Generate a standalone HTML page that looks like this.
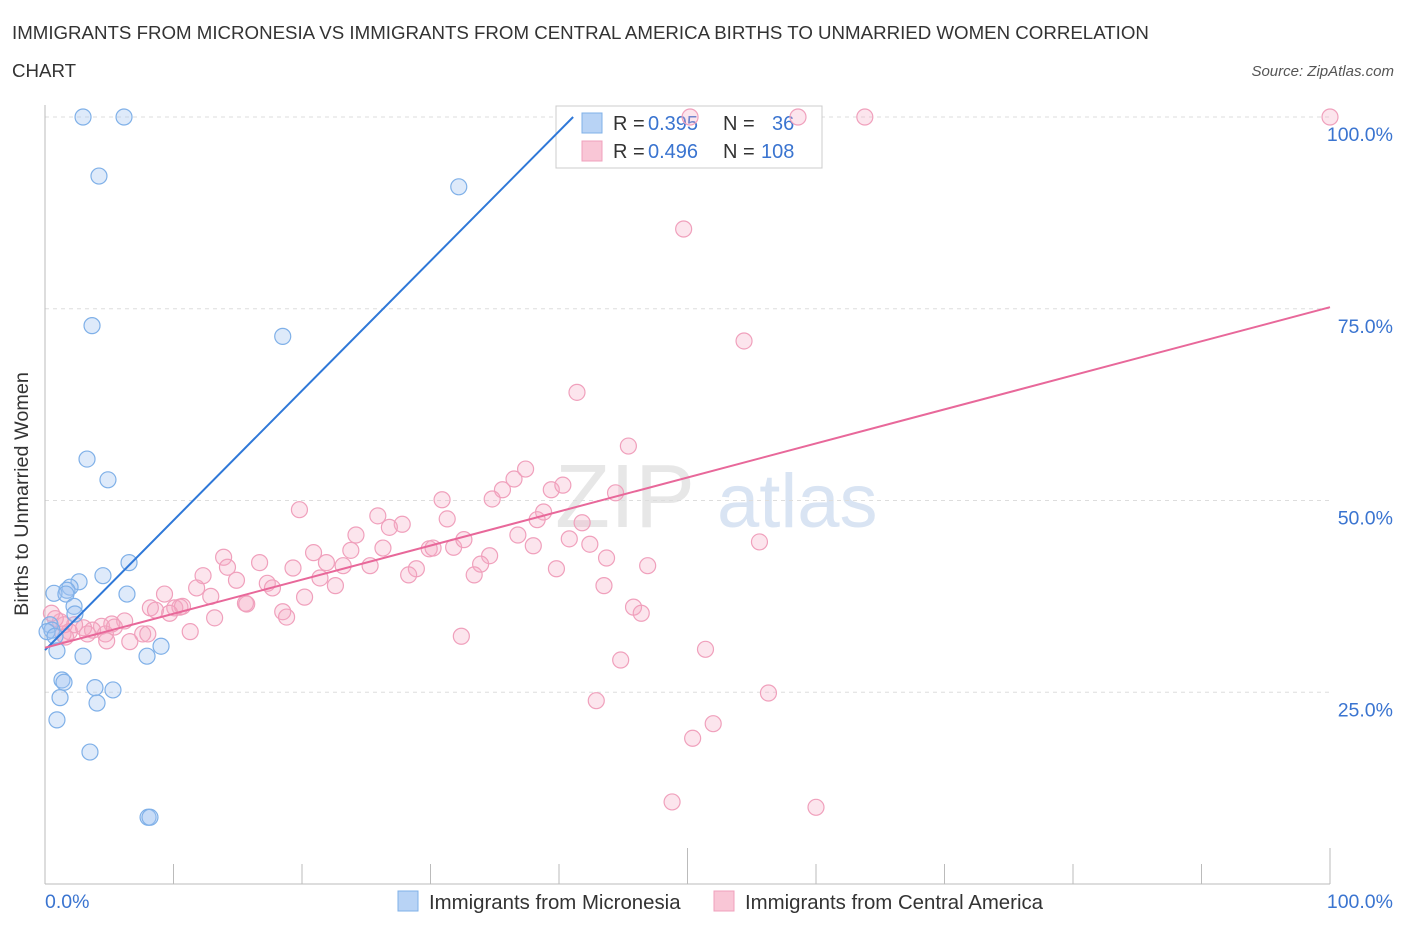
<!DOCTYPE html>
<html><head><meta charset="utf-8"><style>
body{margin:0;background:#fff;font-family:"Liberation Sans",sans-serif;}
svg text{font-family:"Liberation Sans",sans-serif;}
</style></head><body>
<svg id="c" width="1406" height="930" xmlns="http://www.w3.org/2000/svg">
<text x="12" y="39" font-size="18.7" fill="#333">IMMIGRANTS FROM MICRONESIA VS IMMIGRANTS FROM CENTRAL AMERICA BIRTHS TO UNMARRIED WOMEN CORRELATION</text>
<text x="12" y="77" font-size="18.7" fill="#333">CHART</text>
<text x="1394" y="76" font-size="15" fill="#555" font-style="italic" text-anchor="end">Source: ZipAtlas.com</text>
<g><text x="555" y="527" font-size="90" fill="#ddd" font-family="Liberation Serif" opacity="0.7">ZIP</text><text x="717" y="527" font-size="76" fill="#c9d9ee" opacity="0.7">atlas</text></g>
<g id="grid"></g><g id="axes"></g>
<g>
<rect x="556" y="106" width="266" height="62" fill="#fff" stroke="#ccc"/>
<rect x="582" y="113" width="20" height="20" fill="#b8d3f5" stroke="#7fb0e8"/>
<text y="130" font-size="20" fill="#333"><tspan x="613">R =</tspan><tspan x="648" fill="#3a74d0">0.395</tspan><tspan x="723">N =</tspan><tspan x="772" fill="#3a74d0">36</tspan></text>
<rect x="582" y="141" width="20" height="20" fill="#f9c6d6" stroke="#f0a0bc"/>
<text y="158" font-size="20" fill="#333"><tspan x="613">R =</tspan><tspan x="648" fill="#3a74d0">0.496</tspan><tspan x="723">N =</tspan><tspan x="761" fill="#3a74d0">108</tspan></text>
</g>
<g id="pts"></g><g id="lines"></g>
<text x="28" y="494" font-size="19.8" fill="#333" transform="rotate(-90 28 494)" text-anchor="middle">Births to Unmarried Women</text>
<g>
<rect x="398" y="891" width="20" height="20" fill="#b8d3f5" stroke="#7fb0e8"/>
<text x="429" y="909" font-size="20.4" fill="#333">Immigrants from Micronesia</text>
<rect x="714" y="891" width="20" height="20" fill="#f9c6d6" stroke="#f0a0bc"/>
<text x="745" y="909" font-size="20.4" fill="#333">Immigrants from Central America</text>
</g>
</svg>
<script>
const yTicks=[25,50,75,100];
const yTickLabels=["25.0%","50.0%","75.0%","100.0%"];
const blueX=[2.96,6.15,4.2,32.2,3.66,18.5,3.27,4.9,6.54,4.51,2.65,1.95,1.71,0.7,1.63,6.38,2.26,2.33,0.39,0.54,0.16,0.78,9.03,0.93,2.96,7.94,1.32,1.48,3.89,5.29,4.05,1.17,0.93,3.5,8.02,8.17];
const blueY=[100,100,92.3,90.9,72.8,71.4,55.4,52.7,41.9,40.2,39.4,38.7,38.3,37.9,37.8,37.8,36.2,35.2,33.8,33.1,32.9,32.3,31.0,30.4,29.7,29.7,26.6,26.3,25.6,25.3,23.6,24.3,21.4,17.2,8.7,8.7];
const pinkX=[50.2,58.6,63.8,100,49.7,54.4,41.4,45.4,37.4,36.5,35.6,34.8,30.9,39.4,40.3,44.4,38.8,38.3,31.3,25.9,19.8,41.8,27.8,24.2,26.8,36.8,38.0,40.8,42.4,55.6,31.8,29.9,30.2,32.6,23.8,26.3,34.6,20.9,13.9,16.7,21.9,25.3,23.2,14.2,33.9,43.7,46.9,39.8,28.9,28.3,33.4,12.3,14.9,19.3,21.4,17.3,11.8,22.6,17.7,9.3,12.9,20.2,15.6,10.5,10.1,10.7,15.7,8.2,8.6,18.5,18.8,13.2,45.8,46.4,9.7,43.5,11.3,6.2,5.2,4.4,3.7,3.0,2.3,1.5,1.2,0.8,0.5,1.9,1.4,3.3,4.7,5.4,7.6,8.0,6.6,4.8,1.6,32.4,51.4,44.8,56.3,42.9,52.0,50.4,48.8,60.0];
const pinkY=[100,100,100,100,85.4,70.8,64.1,57.1,54.1,52.8,51.4,50.2,50.1,51.4,52.0,51.0,48.5,47.5,47.6,48.0,48.8,47.1,46.9,45.5,46.5,45.5,44.1,45.0,44.3,44.6,43.9,43.7,43.8,44.9,43.5,43.8,42.8,43.2,42.6,41.9,41.9,41.5,41.5,41.3,41.7,42.5,41.5,41.1,41.1,40.3,40.3,40.2,39.6,41.2,39.9,39.2,38.6,38.9,38.6,37.8,37.5,37.4,36.6,36.1,36.0,36.2,36.5,36.0,35.7,35.5,34.8,34.7,36.1,35.3,35.3,38.9,32.9,34.3,33.9,33.6,33.1,33.4,33.8,33.8,34.2,34.6,35.3,32.9,32.6,32.6,32.6,33.5,32.6,32.6,31.6,31.7,32.2,32.3,30.6,29.2,24.9,23.9,20.9,19.0,10.7,10.0];
const blueTrend=[0,30.5,41.1,100];
const pinkTrend=[0,30.8,100,75.2];
const X=v=>45+v*12.85, Y=v=>884-v*7.67;
const NS="http://www.w3.org/2000/svg";
function mk(p,t,a){const e=document.createElementNS(NS,t);for(const k in a)e.setAttribute(k,a[k]);p.appendChild(e);return e;}
const grid=document.getElementById('grid'),axes=document.getElementById('axes'),pts=document.getElementById('pts'),lines=document.getElementById('lines');
yTicks.forEach((t,i)=>{
 const l=mk(grid,'line',{x1:45,x2:1330,y1:Y(t),y2:Y(t),stroke:'#ddd','stroke-dasharray':'4,4'});
 
 
 const tx=mk(axes,'text',{x:1393,y:Y(t)+24,'font-size':19.5,fill:'#3a74d0','text-anchor':'end'});
 tx.textContent=yTickLabels[i];
 
 
});
let a=mk(axes,'line',{x1:45,x2:45,y1:105,y2:884,stroke:'#bbb'});


a=mk(axes,'line',{x1:45,x2:1330,y1:884,y2:884,stroke:'#bbb'});


for(let i=0;i<=10;i++){
 const t=mk(axes,'line',{x1:X(i*10),x2:X(i*10),y1:(i%5==0?848:864),y2:884,stroke:'#bbb'});
 
 
}
let t0=mk(axes,'text',{x:45,y:908,'font-size':19.5,fill:'#3a74d0'});t0.textContent='0.0%';


let t1=mk(axes,'text',{x:1393,y:908,'font-size':19.5,fill:'#3a74d0','text-anchor':'end'});t1.textContent='100.0%';


pinkX.forEach((v,i)=>{
 const c=mk(pts,'circle',{cx:X(v),cy:Y(pinkY[i]),r:8,fill:'rgba(244,170,195,0.3)',stroke:'#f0a0bc','stroke-width':1.2});
 
 
});
blueX.forEach((v,i)=>{
 const c=mk(pts,'circle',{cx:X(v),cy:Y(blueY[i]),r:8,fill:'rgba(160,196,240,0.35)',stroke:'#7fb0e8','stroke-width':1.2});
 
 
});
let l=mk(lines,'line',{x1:X(blueTrend[0]),y1:Y(blueTrend[1]),x2:X(blueTrend[2]),y2:Y(blueTrend[3]),stroke:'#2f78d8','stroke-width':2});


l=mk(lines,'line',{x1:X(pinkTrend[0]),y1:Y(pinkTrend[1]),x2:X(pinkTrend[2]),y2:Y(pinkTrend[3]),stroke:'#e8689a','stroke-width':2});


</script>
</body></html>
